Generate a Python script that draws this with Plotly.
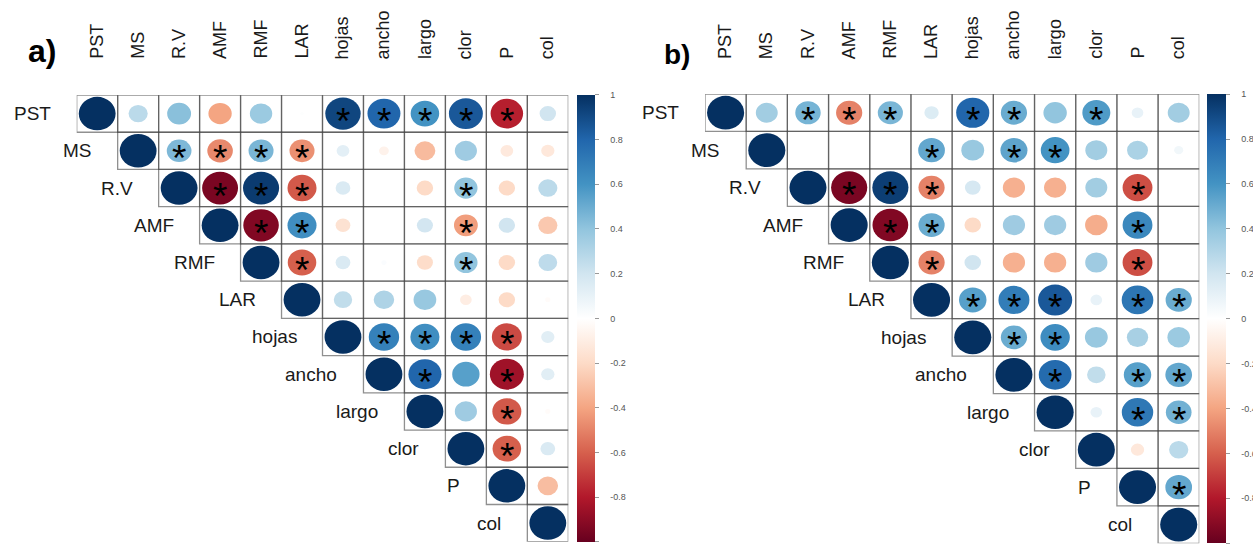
import math
import plotly.graph_objects as go
from plotly.colors import sample_colorscale

labels = ["PST", "MS", "R.V", "AMF", "RMF", "LAR", "hojas", "ancho", "largo", "clor", "P", "col"]

# upper-triangle correlations (row i vs columns i+1 .. 11), panel a
corr_a = [
    [0.27, 0.42, -0.40, 0.37, 0.01, 0.92, 0.80, 0.60, 0.85, -0.78, 0.20],
    [0.45, -0.48, 0.46, -0.46, 0.12, -0.07, -0.32, 0.36, -0.12, -0.13],
    [-0.95, 0.96, -0.62, 0.16, 0.0, -0.20, 0.40, -0.20, 0.27],
    [-0.93, 0.62, -0.16, 0.0, 0.19, -0.42, 0.20, -0.27],
    [-0.60, 0.16, 0.02, -0.19, 0.40, -0.20, 0.26],
    [0.25, 0.31, 0.38, -0.10, -0.20, -0.02],
    [0.68, 0.62, 0.68, -0.66, 0.13],
    [0.80, 0.55, -0.85, 0.13],
    [0.36, -0.62, -0.02],
    [-0.60, 0.16],
    [-0.31],
]
sig_a = [
    [0, 0, 0, 0, 0, 1, 1, 1, 1, 1, 0],
    [1, 1, 1, 1, 0, 0, 0, 0, 0, 0],
    [1, 1, 1, 0, 0, 0, 1, 0, 0],
    [1, 1, 0, 0, 0, 1, 0, 0],
    [1, 0, 0, 0, 1, 0, 0],
    [0, 0, 0, 0, 0, 0],
    [1, 1, 1, 1, 0],
    [1, 0, 1, 0],
    [0, 1, 0],
    [1, 0],
    [0],
]

# panel b
corr_b = [
    [0.35, 0.47, -0.50, 0.46, 0.15, 0.80, 0.50, 0.40, 0.57, 0.10, 0.35],
    [0.0, 0.0, 0.0, 0.52, 0.38, 0.53, 0.60, 0.35, 0.32, 0.06],
    [-0.95, 0.95, -0.50, 0.18, -0.36, -0.36, 0.35, -0.65, 0.0],
    [-0.93, 0.50, -0.20, 0.36, 0.36, -0.37, 0.65, 0.0],
    [-0.50, 0.20, -0.36, -0.36, 0.36, -0.65, 0.0],
    [0.55, 0.70, 0.85, 0.10, 0.73, 0.50],
    [0.50, 0.63, 0.38, 0.33, 0.37],
    [0.78, 0.25, 0.55, 0.52],
    [0.10, 0.72, 0.48],
    [-0.13, 0.27],
    [0.52],
]
sig_b = [
    [0, 1, 1, 1, 0, 1, 1, 0, 1, 0, 0],
    [0, 0, 0, 1, 0, 1, 1, 0, 0, 0],
    [1, 1, 1, 0, 0, 0, 0, 1, 0],
    [1, 1, 0, 0, 0, 0, 1, 0],
    [1, 0, 0, 0, 0, 1, 0],
    [1, 1, 1, 0, 1, 1],
    [1, 1, 0, 0, 0],
    [1, 0, 1, 1],
    [0, 1, 1],
    [0, 0],
    [1],
]

bar_ticks = [1, 0.8, 0.6, 0.4, 0.2, 0, -0.2, -0.4, -0.6, -0.8, -1]
bar_tick_text = ["1", "0.8", "0.6", "0.4", "0.2", "0", "-0.2", "-0.4", "-0.6", "-0.8", "-1"]

rdbu = ["#67001F", "#B2182B", "#D6604D", "#F4A582", "#FDDBC7", "#FFFFFF",
        "#D1E5F0", "#92C5DE", "#4393C3", "#2166AC", "#053061"]
colorscale = [[k / 10, c] for k, c in enumerate(rdbu)]

W, H = 1253, 545
FONT = "Liberation Sans, Arial, Helvetica, sans-serif"

panels = [
    dict(corr=corr_a, sig=sig_a, tag="a)", xd=(76.7, 568.3), yd=(95.0, 541.7),
         bar=(577.0, 595.0), tagpos=(42, 51), tagsize=32, ax=""),
    dict(corr=corr_b, sig=sig_b, tag="b)", xd=(705.0, 1199.3), yd=(94.0, 543.3),
         bar=(1207.0, 1226.0), tagpos=(677, 54), tagsize=28, ax="2"),
]

n = len(labels)
fig = go.Figure()
shapes = []
annotations = []
layout_axes = {}
pad = "\u00a0" * 4

for p in panels:
    ax = p["ax"]
    xref, yref = "x" + ax, "y" + ax
    layout_axes["xaxis" + ax] = dict(domain=[p["xd"][0] / W, p["xd"][1] / W], range=[-0.5, n - 0.5],
                                     visible=False, fixedrange=True, anchor=yref)
    layout_axes["yaxis" + ax] = dict(domain=[1 - p["yd"][1] / H, 1 - p["yd"][0] / H], range=[n - 0.5, -0.5],
                                     visible=False, fixedrange=True, anchor=xref)

    # full matrix from upper-triangle lists
    vals = {}
    sigs = {}
    for i in range(n):
        vals[(i, i)] = 1.0
        sigs[(i, i)] = 0
        for k, v in enumerate(p["corr"][i] if i < n - 1 else []):
            vals[(i, i + 1 + k)] = v
            sigs[(i, i + 1 + k)] = p["sig"][i][k]

    # cell borders
    for (i, j) in vals:
        shapes.append(dict(type="rect", xref=xref, yref=yref, x0=j - 0.5, x1=j + 0.5, y0=i - 0.5, y1=i + 0.5,
                           line=dict(color="rgba(70,70,70,0.6)", width=1.3), fillcolor="rgba(0,0,0,0)",
                           layer="above"))
    # circles
    for (i, j), v in vals.items():
        rad = 0.45 * math.sqrt(abs(v))
        if rad <= 0:
            continue
        col = sample_colorscale(colorscale, [(v + 1) / 2], colortype="rgb")[0]
        shapes.append(dict(type="circle", xref=xref, yref=yref, x0=j - rad, x1=j + rad, y0=i - rad, y1=i + rad,
                           line=dict(width=0), fillcolor=col, layer="above"))
    # asterisks
    for (i, j), s in sigs.items():
        if s:
            annotations.append(dict(text="*", xref=xref, yref=yref, x=j, y=i, showarrow=False,
                                    xanchor="center", yanchor="middle", yshift=-8,
                                    font=dict(family=FONT, size=37, color="black")))
    # row labels
    for i, lab in enumerate(labels):
        annotations.append(dict(text=lab, xref=xref, yref=yref, x=i - 0.5, y=i, showarrow=False,
                                xanchor="right", yanchor="middle", xshift=-24,
                                font=dict(family=FONT, size=19, color="#1a1a1a")))
    # column labels
    for j, lab in enumerate(labels):
        annotations.append(dict(text=lab, xref=xref, yref="paper", x=j, y=1 - 61 / H, showarrow=False,
                                textangle=-90, xanchor="center", yanchor="bottom",
                                font=dict(family=FONT, size=18, color="#1a1a1a")))
    # panel tag
    annotations.append(dict(text=p["tag"], xref="paper", yref="paper", x=p["tagpos"][0] / W,
                            y=1 - p["tagpos"][1] / H, showarrow=False, xanchor="center", yanchor="middle",
                            font=dict(family=FONT, size=p["tagsize"], color="black", weight="bold")))

    # colorbar via invisible trace
    fig.add_trace(go.Scatter(
        x=[0], y=[0], xaxis=xref, yaxis=yref, mode="markers", hoverinfo="skip", showlegend=False,
        marker=dict(size=0.1, opacity=0, color=[0], colorscale=colorscale, cmin=-1, cmax=1, showscale=True,
                    colorbar=dict(x=p["bar"][0] / W, xanchor="left", xpad=0,
                                  y=1 - (p["yd"][0] + p["yd"][1]) / 2 / H, yanchor="middle",
                                  len=(p["yd"][1] - p["yd"][0]) / H, lenmode="fraction",
                                  thickness=p["bar"][1] - p["bar"][0], thicknessmode="pixels", ypad=0,
                                  outlinewidth=0, tickvals=bar_ticks,
                                  ticktext=[pad + t for t in bar_tick_text],
                                  ticks="outside", ticklen=4, tickcolor="#999", tickwidth=1,
                                  tickfont=dict(family=FONT, size=9, color="#555"))),
    ))

fig.update_layout(width=W, height=H, margin=dict(l=0, r=0, t=0, b=0, autoexpand=False),
                  paper_bgcolor="white", plot_bgcolor="rgba(0,0,0,0)",
                  shapes=shapes, annotations=annotations, showlegend=False, **layout_axes)

fig.write_html("out.html")
